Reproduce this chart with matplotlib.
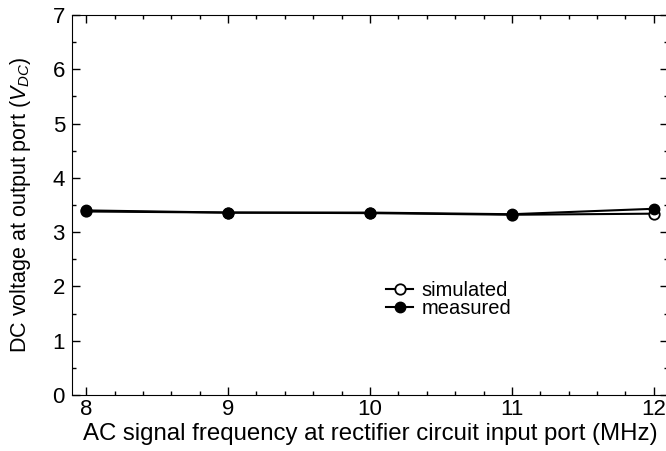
import matplotlib.pyplot as plt
from matplotlib.ticker import MultipleLocator

plt.rcParams['font.family'] = ['Liberation Sans', 'DejaVu Sans']
plt.rcParams['mathtext.fontset'] = 'custom'
plt.rcParams['mathtext.rm'] = 'Liberation Sans'
plt.rcParams['mathtext.it'] = 'Liberation Sans:italic'

# Data
freq = [8, 9, 10, 11, 12]
simulated = [3.38, 3.36, 3.35, 3.32, 3.34]
measured = [3.40, 3.36, 3.36, 3.33, 3.43]

fig = plt.figure(figsize=(6.66, 4.51), dpi=100)
ax = fig.add_axes([0.108, 0.124, 0.895, 0.843])

ax.plot(freq, simulated, color='black', lw=1.5, marker='o', ms=7.5,
        mfc='white', mec='black', mew=1.3, label='simulated')
ax.plot(freq, measured, color='black', lw=1.5, marker='o', ms=7.5,
        mfc='black', mec='black', label='measured')

ax.set_xlim(7.9, 12.1)
ax.set_ylim(0, 7)
ax.xaxis.set_major_locator(MultipleLocator(1))
ax.xaxis.set_minor_locator(MultipleLocator(0.2))
ax.yaxis.set_major_locator(MultipleLocator(1))
ax.yaxis.set_minor_locator(MultipleLocator(0.5))
ax.tick_params(which='both', direction='in', top=True, right=True, labelsize=16)
ax.tick_params(which='major', length=6, width=1)
ax.tick_params(which='minor', length=3, width=1)
ax.tick_params(axis='x', pad=3)
ax.tick_params(axis='y', pad=5)

ax.set_xlabel('AC signal frequency at rectifier circuit input port (MHz)', fontsize=17.3, labelpad=2)
ax.set_ylabel(r'DC voltage at output port ($V_{DC}$)', fontsize=15.5, labelpad=14)

ax.legend(loc='upper left', bbox_to_anchor=(0.51, 0.326), frameon=False, fontsize=14.5,
          handlelength=1.35, handletextpad=0.4, labelspacing=-0.05, borderpad=0)

fig.savefig('out.png', dpi=100)
